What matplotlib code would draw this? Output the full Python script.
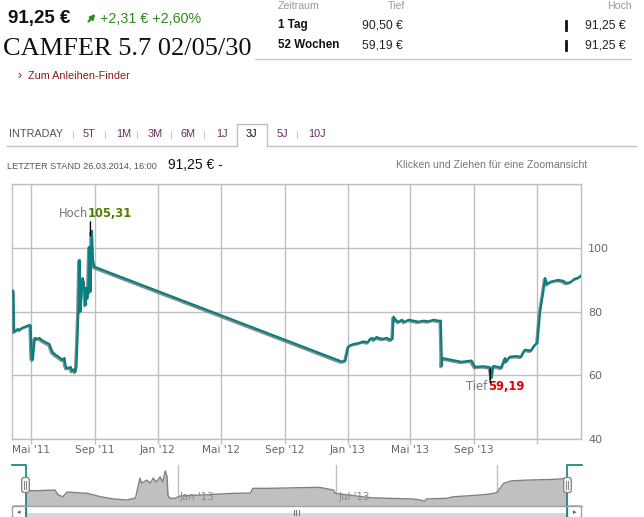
import numpy as np
import pandas as pd
import matplotlib
matplotlib.use("Agg")
import matplotlib.pyplot as plt
import matplotlib.dates as mdates
import matplotlib.patheffects as pe
from matplotlib.patches import FancyBboxPatch
from matplotlib.transforms import offset_copy

# ---------------------------------------------------------------- data
price_dates = [
    '2011-03-28', '2011-03-29', '2011-03-30', '2011-04-01', '2011-04-06', '2011-04-10',
    '2011-04-14', '2011-04-20', '2011-04-25', '2011-04-29', '2011-05-01', '2011-05-03',
    '2011-05-05', '2011-05-09', '2011-05-14', '2011-05-18', '2011-05-22', '2011-05-28',
    '2011-06-02', '2011-06-06', '2011-06-12', '2011-06-18', '2011-06-22', '2011-06-27',
    '2011-07-02', '2011-07-05', '2011-07-07', '2011-07-09', '2011-07-13', '2011-07-17',
    '2011-07-20', '2011-07-24', '2011-07-26', '2011-07-28', '2011-07-30', '2011-08-01',
    '2011-08-03', '2011-08-05', '2011-08-07', '2011-08-09', '2011-08-11', '2011-08-13',
    '2011-08-15', '2011-08-16', '2011-08-18', '2011-08-20', '2011-08-22', '2011-08-24',
    '2011-08-26', '2011-08-27', '2011-08-29', '2011-09-01',
    '2012-12-20', '2012-12-27', '2013-01-02', '2013-01-07', '2013-01-12', '2013-01-22',
    '2013-01-31', '2013-02-09', '2013-02-13', '2013-02-17', '2013-02-21', '2013-02-25',
    '2013-03-01', '2013-03-09', '2013-03-17', '2013-03-24', '2013-03-28', '2013-03-30',
    '2013-04-03', '2013-04-09', '2013-04-15', '2013-04-20', '2013-04-28', '2013-05-07',
    '2013-05-17', '2013-05-27', '2013-06-05', '2013-06-15', '2013-06-24', '2013-06-29',
    '2013-07-01', '2013-07-02', '2013-07-05', '2013-07-20', '2013-08-08', '2013-08-27',
    '2013-09-03', '2013-09-19', '2013-09-29', '2013-10-02', '2013-10-05', '2013-10-08',
    '2013-10-18', '2013-10-24', '2013-10-31', '2013-11-02', '2013-11-09', '2013-11-21',
    '2013-12-01', '2013-12-08', '2013-12-20', '2013-12-27', '2014-01-01', '2014-01-06',
    '2014-01-12', '2014-01-16', '2014-01-20', '2014-01-26', '2014-02-02', '2014-02-10',
    '2014-02-20', '2014-02-25', '2014-03-01', '2014-03-07', '2014-03-13', '2014-03-21',
    '2014-03-26',
]
price_values = [
    86.5, 86.0, 73.6, 73.8, 74.5, 74.2, 74.8, 75.2, 75.5, 75.8, 75.5, 65.4,
    64.8, 71.7, 71.4, 71.7, 71.1, 70.5, 70.1, 69.8, 67.3, 66.4, 66.0, 65.4,
    64.8, 65.4, 63.2, 62.3, 62.3, 62.6, 61.3, 61.9, 61.0, 62.6, 71.0, 80.5,
    96.2, 80.0, 85.8, 90.5, 89.3, 85.8, 82.0, 87.4, 84.0, 86.5, 100.3, 86.2,
    100.0, 105.31, 96.0, 94.0,
    64.3, 64.5, 69.0, 69.5, 69.8, 70.1, 70.6, 70.3, 71.4, 71.7, 71.1, 72.0,
    71.7, 71.4, 71.7, 71.1, 71.4, 78.4, 77.4, 76.7, 77.4, 76.7, 77.4, 77.1,
    76.8, 77.1, 76.9, 77.4, 77.1, 77.1, 62.9, 65.4, 65.3, 64.8, 64.2, 64.6,
    62.6, 62.8, 62.6, 62.4, 59.19, 62.9, 62.6, 62.3, 65.4, 64.2, 65.8, 66.0,
    65.8, 68.0, 67.7, 69.5, 70.1, 79.6, 85.8, 90.5, 88.5, 89.3, 89.6, 89.9,
    89.6, 89.0, 89.0, 89.3, 90.2, 90.6, 91.25,
]

nav_dates = [
    '2012-07-12', '2012-07-20', '2012-08-14', '2012-08-18', '2012-08-23', '2012-08-28',
    '2012-09-20', '2012-10-05', '2012-10-20', '2012-11-04', '2012-11-14', '2012-11-19',
    '2012-11-21', '2012-11-27', '2012-12-01', '2012-12-04', '2012-12-08', '2012-12-12',
    '2012-12-15', '2012-12-18', '2012-12-20', '2012-12-21', '2012-12-23', '2012-12-29',
    '2013-01-04', '2013-01-27', '2013-03-05', '2013-03-25', '2013-03-28', '2013-04-13',
    '2013-06-12', '2013-06-28', '2013-06-30', '2013-08-09', '2013-08-28', '2013-09-27',
    '2013-10-05', '2013-10-10', '2013-10-12', '2013-11-04', '2013-11-12', '2013-12-01',
    '2013-12-20', '2013-12-31', '2014-01-04', '2014-01-08', '2014-01-17', '2014-02-03',
    '2014-03-06', '2014-03-21',
]
nav_values = [
    74.9, 73.9, 74.9, 67.9, 65.6, 72.1, 70.3, 65.6, 62.4, 61.0, 63.8, 91.6,
    84.6, 88.8, 84.6, 91.6, 86.4, 93.4, 86.4, 101.7, 93.4, 67.9, 63.4, 63.4,
    66.6, 67.9, 70.3, 70.7, 77.3, 77.3, 78.7, 74.9, 70.3, 64.2, 63.4, 62.4,
    61.0, 59.2, 62.4, 63.4, 65.6, 67.0, 68.9, 71.1, 77.3, 84.2, 87.8, 88.8,
    89.8, 91.2,
]

x_tick_dates = ['2011-05-01', '2011-09-01', '2012-01-01', '2012-05-01', '2012-09-01',
                '2013-01-01', '2013-05-01', '2013-09-01', '2014-01-01']
x_tick_labels = ["Mai '11", "Sep '11", "Jan '12", "Mai '12", "Sep '12",
                 "Jan '13", "Mai '13", "Sep '13", ""]
y_ticks = [40, 60, 80, 100, 120]
y_tick_labels = ["40", "60", "80", "100", ""]

nav_tick_dates = ['2013-01-01', '2013-07-01', '2014-01-01']
nav_tick_labels = ["Jan '13", "Jul '13", ""]

tab_labels = ['INTRADAY', '5T', '1M', '3M', '6M', '1J', '3J', '5J', '10J']
range_labels = ['1 Tag', '52 Wochen']
range_low = ['90,50 €', '59,19 €']
range_high = ['91,25 €', '91,25 €']

# ---------------------------------------------------------------- figure
W, H = 644, 517
fig = plt.figure(figsize=(W / 100, H / 100), dpi=100)
fig.patch.set_facecolor('white')


def box(l, t, r, b):
    return [l / W, 1 - b / H, (r - l) / W, (b - t) / H]


GRID = '#c0c0c0'
TEAL = '#0a7f7f'
LABEL = '#666666'

# ---------------------------------------------------------------- main chart
ax = fig.add_axes(box(12, 184, 581, 439))
px = pd.to_datetime(price_dates)
pv = np.array(price_values)

ax.plot(px, pv, color=TEAL, lw=1.6, solid_joinstyle='round', zorder=3,
        path_effects=[pe.SimpleLineShadow(offset=(-0.9, -0.9), shadow_color='#808080', alpha=0.9),
                      pe.Normal()])

ax.set_xlim(pd.Timestamp('2011-03-26'), pd.Timestamp('2014-03-26'))
ax.set_ylim(40, 120)
ax.set_xticks(pd.to_datetime(x_tick_dates))
ax.set_xticklabels(x_tick_labels)
ax.set_yticks(y_ticks)
ax.set_yticklabels(y_tick_labels)
ax.yaxis.tick_right()
ax.tick_params(axis='y', length=0, pad=5, labelsize=8, labelcolor=LABEL)
ax.tick_params(axis='x', direction='out', length=3.5, width=1, color=GRID,
               pad=0.5, labelsize=7.6, labelcolor=LABEL)
for lab in ax.get_yticklabels():
    lab.set_horizontalalignment('left')
ax.grid(True, color=GRID, lw=1)
ax.set_axisbelow(True)
for s in ax.spines.values():
    s.set_color(GRID)
    s.set_linewidth(1)

# high / low flags
i_hi = int(np.argmax(pv))
i_lo = int(np.argmin(pv))


def flag(i, label, color, text_dy):
    d, v = mdates.date2num(px[i]), pv[i]
    start = offset_copy(ax.transData, fig=fig, x=-1.5, y=-5, units='dots')
    ax.annotate('', xy=(d, v), xycoords=start, xytext=(0, 14), textcoords='offset pixels',
                arrowprops=dict(arrowstyle='-', color='black', lw=1, shrinkA=0, shrinkB=0),
                zorder=5, annotation_clip=False)
    ax.annotate(label, xy=(d, v), xytext=(-4, text_dy), textcoords='offset pixels',
                ha='right', va='center', color='#777777', fontsize=8.3, annotation_clip=False)
    ax.annotate(f'{v:.2f}'.replace('.', ','), xy=(d, v), xytext=(-4, text_dy),
                textcoords='offset pixels', ha='left', va='center', color=color,
                fontsize=8.3, fontweight='bold', annotation_clip=False)


flag(i_hi, 'Hoch', '#4f7f00', 17)
flag(i_lo, 'Tief', '#e00000', -9)

# ---------------------------------------------------------------- navigator
axn = fig.add_axes(box(26, 465, 567, 505))
nx = pd.to_datetime(nav_dates)
axn.fill_between(nx, nav_values, 50, color='#c0c0c0', lw=0, zorder=1)
axn.plot(nx, nav_values, color='#808080', lw=1, zorder=2)
axn.set_xlim(pd.Timestamp('2012-07-12'), pd.Timestamp('2014-03-21 12:00'))
axn.set_ylim(54, 110)
axn.axis('off')
for d, lab in zip(pd.to_datetime(nav_tick_dates), nav_tick_labels):
    axn.axvline(d, color=GRID, lw=1, zorder=0.5)
    axn.annotate(lab, xy=(mdates.date2num(d), 54), xytext=(2, 8), textcoords='offset pixels',
                 ha='left', va='center', fontsize=7.4, color='#8a8a8a', zorder=3)

# ---------------------------------------------------------------- page elements
ui = fig.add_axes([0, 0, 1, 1], zorder=10)
ui.set_xlim(0, W)
ui.set_ylim(H, 0)
ui.axis('off')
ui.patch.set_visible(False)

SANS = 'Liberation Sans'
GREEN = '#2e8a1e'
MAROON = '#8b1c1c'

ui.text(8, 18, '91,25 €', fontsize=13.5, fontweight='bold', family=SANS, va='center', color='#111111')
ui.annotate('', xy=(95.5, 14), xytext=(88.5, 21.5),
            arrowprops=dict(arrowstyle='-|>', color=GREEN, lw=1.6, mutation_scale=7,
                            shrinkA=0, shrinkB=0))
ui.text(100, 19, '+2,31 € +2,60%', fontsize=10.3, family=SANS, va='center', color=GREEN)
ui.text(3, 49, 'CAMFER 5.7 02/05/30', fontsize=19, family='Liberation Serif', va='center',
        color='#111111')
ui.text(18, 76, '›', fontsize=9, family=SANS, va='center', color=MAROON)
ui.text(28, 76, 'Zum Anleihen-Finder', fontsize=7.8, family=SANS, va='center', color=MAROON)

# range table
ui.text(278, 6, 'Zeitraum', fontsize=7.6, family=SANS, va='center', color='#999999')
ui.text(388, 6, 'Tief', fontsize=7.6, family=SANS, va='center', color='#999999')
ui.text(607, 6, 'Hoch', fontsize=7.6, family=SANS, va='center', color='#999999')
for k, (lab, lo, hi) in enumerate(zip(range_labels, range_low, range_high)):
    y = 25 + 20 * k
    ui.text(278, y, lab, fontsize=8.4, fontweight='bold', family=SANS, va='center', color='#111111')
    ui.text(362, y, lo, fontsize=8.8, family=SANS, va='center', color='#222222')
    ui.plot([566, 566], [y - 4.5, y + 4.5], color='#111111', lw=2)
    ui.text(585, y, hi, fontsize=8.8, family=SANS, va='center', color='#222222')
ui.plot([255, 631], [59, 59], color='#c8c8c8', lw=1)

# period tabs
tab_x = [9, 83, 116, 148, 181, 216, 246, 277, 308]
sep_x = [73, 105, 137, 171, 204, 297]
for lab, x in zip(tab_labels, tab_x):
    col = '#111111' if lab == '3J' else ('#555555' if lab == 'INTRADAY' else '#6a2a5e')
    ui.text(x, 134, lab, fontsize=7.8, family=SANS, va='center', color=col)
for x in sep_x:
    ui.plot([x, x], [131, 138], color='#cccccc', lw=0.8)
ui.plot([7, 237, 237, 267, 267, 636], [146, 146, 124, 124, 146, 146], color=GRID, lw=1)

ui.text(7, 166, 'LETZTER STAND 26.03.2014, 16:00', fontsize=6.6, family=SANS, va='center',
        color='#555555')
ui.text(168, 165, '91,25 € -', fontsize=10, family=SANS, va='center', color='#111111')
ui.text(587, 165, 'Klicken und Ziehen für eine Zoomansicht', fontsize=7.6, family=SANS,
        ha='right', va='center', color='#777777')

# navigator frame, handles and scrollbar
ui.plot([12, 26, 26], [465, 465, 517], color=TEAL, lw=1.2)
ui.plot([582, 567, 567], [465, 465, 517], color=TEAL, lw=1.2)
ui.plot([12, 582], [505.5, 505.5], color='#a0a0a0', lw=1)
ui.add_patch(FancyBboxPatch((26, 513), 541, 4, boxstyle='square,pad=0', fc='#d8d8d8', ec='none'))
for bx in (12, 567):
    ui.add_patch(FancyBboxPatch((bx + 0.5, 506), 14, 12, boxstyle='round,pad=0,rounding_size=2',
                                fc='white', ec='#a0a0a0', lw=1))
ui.text(19, 512.5, '◂', fontsize=5, ha='center', va='center', color='#555555')
ui.text(575, 512.5, '▸', fontsize=5, ha='center', va='center', color='#555555')
for gx in (294, 296.5, 299):
    ui.plot([gx, gx], [509.5, 515], color='#777777', lw=0.8)
for hx in (25.5, 567.5):
    ui.add_patch(FancyBboxPatch((hx - 3.8, 477.5), 7.6, 15,
                                boxstyle='round,pad=0,rounding_size=2.5',
                                fc='white', ec='#888888', lw=1, zorder=4))
    ui.plot([hx - 1, hx - 1], [481, 489], color='#888888', lw=0.8, zorder=5)
    ui.plot([hx + 1, hx + 1], [481, 489], color='#888888', lw=0.8, zorder=5)

fig.savefig('out.png', dpi=100, facecolor='white')
